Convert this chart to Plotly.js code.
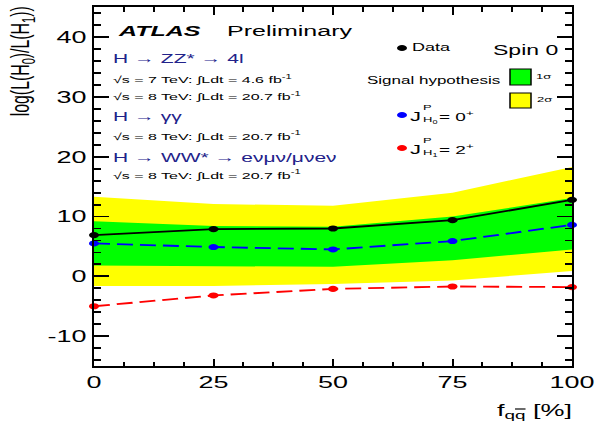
<!DOCTYPE html>
<html>
<head>
<meta charset="utf-8">
<script src="https://cdn.plot.ly/plotly-3.0.1.min.js"></script>
<style>
  html, body { margin: 0; padding: 0; overflow: hidden; background: #fff; }
  #plot { width: 597px; height: 700px; transform: scaleY(0.61); transform-origin: 0 0; }
</style>
</head>
<body>
<div id="plot"></div>
<script>
// ---- data ----
const fqq = [0, 25, 50, 75, 100];
const obsData = [6.9, 7.9, 8.0, 9.4, 12.8];
const expSpin0 = [5.5, 4.9, 4.5, 5.9, 8.6];
const expSpin2 = [-5.0, -3.2, -2.1, -1.7, -1.8];
const band1Lo = [1.8, 1.7, 1.6, 2.7, 4.5];
const band1Hi = [9.2, 8.4, 8.3, 10.0, 13.1];
const band2Lo = [-1.6, -1.6, -1.3, -0.7, 0.9];
const band2Hi = [13.3, 12.1, 11.8, 14.0, 18.3];
const xTickVals = [0, 25, 50, 75, 100];
const xTickText = ['0', '25', '50', '75', '100'];
const yTickVals = [-10, 0, 10, 20, 30, 40];
const yTickText = ['-10', '0', '10', '20', '30', '40'];

// ---- geometry helpers (reference pixels -> paper coords) ----
const SY = 0.61, W = 597, H = 700;
const ML = 94, MR = 25, MT = 12, MB = 100;
function px(x) { return (x - ML) / (W - ML - MR); }
function py(y) { return (H - MB - y / SY) / (H - MT - MB); }

const FONT = 'Liberation Sans, Arial, Helvetica, sans-serif';
const NAVY = '#22228a';
const BASE = {xref: 'paper', yref: 'paper', xanchor: 'center', yanchor: 'middle', showarrow: false};
const LEFT = {xref: 'paper', yref: 'paper', xanchor: 'left', yanchor: 'middle', showarrow: false};

const traces = [
  {x: fqq, y: band2Lo, mode: 'lines', line: {width: 0, color: '#ffff00'}, hoverinfo: 'skip', showlegend: false},
  {x: fqq, y: band2Hi, mode: 'lines', fill: 'tonexty', fillcolor: '#ffff00', line: {width: 0, color: '#ffff00'}, hoverinfo: 'skip', showlegend: false},
  {x: fqq, y: band1Lo, mode: 'lines', line: {width: 0, color: '#00ff00'}, hoverinfo: 'skip', showlegend: false},
  {x: fqq, y: band1Hi, mode: 'lines', fill: 'tonexty', fillcolor: '#00ff00', line: {width: 0, color: '#00ff00'}, hoverinfo: 'skip', showlegend: false},
  {x: fqq, y: expSpin2, mode: 'lines+markers', cliponaxis: false, line: {color: '#ff0000', width: 3, dash: '16px,7px'}, marker: {color: '#ff0000', size: 10}, showlegend: false},
  {x: fqq, y: expSpin0, mode: 'lines+markers', cliponaxis: false, line: {color: '#0000ff', width: 3, dash: '16px,7px'}, marker: {color: '#0000ff', size: 10}, showlegend: false},
  {x: fqq, y: obsData, mode: 'lines+markers', cliponaxis: false, line: {color: '#000000', width: 3}, marker: {color: '#000000', size: 10}, showlegend: false}
];

const lumi7 = '\u221As = 7 TeV: \u222BLdt = 4.6 fb<sup>-1</sup>';
const lumi8 = '\u221As = 8 TeV: \u222BLdt = 20.7 fb<sup>-1</sup>';

const annotations = [
  Object.assign({}, BASE, {text: '<b><i>ATLAS</i></b>', x: px(159), y: py(30.5), font: {family: FONT, size: 25, color: '#000'}}),
  Object.assign({}, BASE, {text: 'Preliminary', x: px(290), y: py(30.5), font: {family: FONT, size: 25, color: '#000'}}),
  Object.assign({}, LEFT, {text: 'H \u2192 ZZ* \u2192 4l', x: px(111), y: py(58), font: {family: FONT, size: 21, color: NAVY}}),
  Object.assign({}, LEFT, {text: lumi7, x: px(111), y: py(79), font: {family: FONT, size: 16, color: '#000'}}),
  Object.assign({}, LEFT, {text: lumi8, x: px(111), y: py(96), font: {family: FONT, size: 16, color: '#000'}}),
  Object.assign({}, LEFT, {text: 'H \u2192 \u03B3\u03B3', x: px(111), y: py(117), font: {family: FONT, size: 21, color: NAVY}}),
  Object.assign({}, LEFT, {text: lumi8, x: px(111), y: py(136), font: {family: FONT, size: 16, color: '#000'}}),
  Object.assign({}, LEFT, {text: 'H \u2192 WW* \u2192 e\u03BD\u03BC\u03BD/\u03BC\u03BDe\u03BD', x: px(111), y: py(157), font: {family: FONT, size: 21, color: NAVY}}),
  Object.assign({}, LEFT, {text: lumi8, x: px(111), y: py(175), font: {family: FONT, size: 16, color: '#000'}}),
  Object.assign({}, BASE, {text: 'Data', x: px(431), y: py(47), font: {family: FONT, size: 18, color: '#000'}}),
  Object.assign({}, BASE, {text: 'Spin 0', x: px(525), y: py(50), font: {family: FONT, size: 23, color: '#000'}}),
  Object.assign({}, BASE, {text: 'Signal hypothesis', x: px(433), y: py(80), font: {family: FONT, size: 17, color: '#000'}}),
  Object.assign({}, BASE, {text: '1\u03C3', x: px(543), y: py(76), font: {family: FONT, size: 13, color: '#000'}}),
  Object.assign({}, BASE, {text: '2\u03C3', x: px(544), y: py(100), font: {family: FONT, size: 13, color: '#000'}}),
  Object.assign({}, BASE, {text: 'J', x: px(415.5), y: py(116), borderpad: 0, font: {family: FONT, size: 22, color: '#000'}}),
  Object.assign({}, BASE, {text: 'P', x: px(427.5), y: py(107.5), borderpad: 0, font: {family: FONT, size: 13, color: '#000'}}),
  Object.assign({}, BASE, {text: 'H<sub>0</sub>', x: px(430), y: py(120), borderpad: 0, font: {family: FONT, size: 13, color: '#000'}}),
  Object.assign({}, BASE, {text: '= 0<sup>+</sup>', x: px(456), y: py(116), borderpad: 0, font: {family: FONT, size: 19, color: '#000'}}),
  Object.assign({}, BASE, {text: 'J', x: px(415.5), y: py(149), borderpad: 0, font: {family: FONT, size: 22, color: '#000'}}),
  Object.assign({}, BASE, {text: 'P', x: px(427.5), y: py(140.5), borderpad: 0, font: {family: FONT, size: 13, color: '#000'}}),
  Object.assign({}, BASE, {text: 'H<sub>1</sub>', x: px(430), y: py(153), borderpad: 0, font: {family: FONT, size: 13, color: '#000'}}),
  Object.assign({}, BASE, {text: '= 2<sup>+</sup>', x: px(456), y: py(149), borderpad: 0, font: {family: FONT, size: 19, color: '#000'}}),
  // axis titles
  {text: 'log(L(H<sub>0</sub>)/L(H<sub>1</sub>))', xref: 'paper', yref: 'paper',
   x: px(22), y: py(5), xanchor: 'center', yanchor: 'top', textangle: -90, showarrow: false,
   font: {family: FONT, size: 26, color: '#000'}},
  {text: 'f<sub>q<span style="text-decoration:overline">q</span></sub> [%]', xref: 'paper', yref: 'paper',
   x: px(574), y: py(412), xanchor: 'right', yanchor: 'middle', showarrow: false,
   font: {family: FONT, size: 27, color: '#000'}}
];

function ellipse(xr, yr, color) {
  return {type: 'circle', xref: 'paper', yref: 'paper',
    x0: px(xr - 5), x1: px(xr + 5), y0: py(yr + 3), y1: py(yr - 3),
    fillcolor: color, line: {width: 0}};
}
function box(x0, y0, x1, y1, color) {
  return {type: 'rect', xref: 'paper', yref: 'paper',
    x0: px(x0), x1: px(x1), y0: py(y1), y1: py(y0),
    fillcolor: color, line: {color: '#000', width: 1.5}};
}

const shapes = [
  ellipse(402, 48, '#000'),
  ellipse(402, 115, '#0000ff'),
  ellipse(402, 148, '#ff0000'),
  box(510, 69, 531, 85, '#00ff00'),
  box(510, 93, 531, 108, '#ffff00')
];

const layout = {
  width: W, height: H, autosize: false,
  margin: {l: ML, r: MR, t: MT, b: MB, pad: 0},
  paper_bgcolor: '#fff', plot_bgcolor: '#fff',
  font: {family: FONT, color: '#000', size: 20},
  showlegend: false,
  xaxis: {
    range: [0, 100], tickvals: xTickVals, ticktext: xTickText,
    ticks: 'inside', ticklen: 12, tickwidth: 2, tickcolor: '#000',
    minor: {dtick: 6.25, tick0: 0, ticks: 'inside', ticklen: 7, tickwidth: 2, tickcolor: '#000'},
    showline: true, linecolor: '#000', linewidth: 3.3, mirror: 'allticks',
    showgrid: false, zeroline: false,
    tickfont: {family: FONT, size: 27, color: '#000'}
  },
  yaxis: {
    range: [-15, 45], tickvals: yTickVals, ticktext: yTickText,
    ticks: 'inside', ticklen: 15, tickwidth: 3, tickcolor: '#000',
    minor: {dtick: 2, tick0: 0, ticks: 'inside', ticklen: 7, tickwidth: 3, tickcolor: '#000'},
    showline: true, linecolor: '#000', linewidth: 2, mirror: 'allticks',
    showgrid: false, zeroline: false,
    tickfont: {family: FONT, size: 27, color: '#000'}
  },
  annotations: annotations,
  shapes: shapes
};

Plotly.newPlot('plot', traces, layout, {displayModeBar: false, staticPlot: true});
</script>
</body>
</html>
